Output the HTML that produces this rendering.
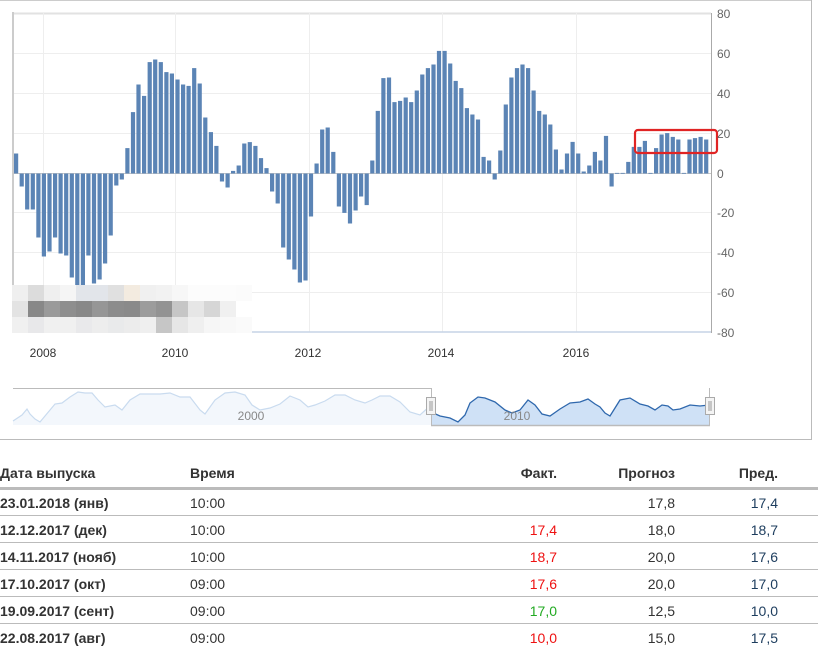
<!DOCTYPE html>
<html><head><meta charset="utf-8"><style>
html,body{margin:0;padding:0;background:#fff;width:830px;height:650px;overflow:hidden;font-family:"Liberation Sans",Arial,sans-serif}
svg{position:absolute;left:0;top:0}
table{position:absolute;left:0;top:460px;border-collapse:collapse;width:818px;font-size:14px;color:#333}
td,th{padding:0;height:27px}
</style></head><body>
<svg width="830" height="650" id="s" xmlns="http://www.w3.org/2000/svg">
<line x1="0" y1="0.5" x2="812" y2="0.5" stroke="#ccc"/>
<line x1="811.5" y1="0" x2="811.5" y2="440" stroke="#bbb"/>
<line x1="0" y1="439.5" x2="812" y2="439.5" stroke="#bbb"/>
<g stroke="#eeeeee" stroke-width="1">
<line x1="13" y1="13.5" x2="711" y2="13.5" stroke="#e2e2e2" stroke-width="2"/>
<line x1="13" y1="53.5" x2="711" y2="53.5"/>
<line x1="13" y1="93.5" x2="711" y2="93.5"/>
<line x1="13" y1="133.5" x2="711" y2="133.5"/>
<line x1="13" y1="212.5" x2="711" y2="212.5"/>
<line x1="13" y1="252.5" x2="711" y2="252.5"/>
<line x1="13" y1="292.5" x2="711" y2="292.5"/>
<line x1="43.5" y1="13" x2="43.5" y2="332"/>
<line x1="175.5" y1="13" x2="175.5" y2="332"/>
<line x1="309.5" y1="13" x2="309.5" y2="332"/>
<line x1="442.5" y1="13" x2="442.5" y2="332"/>
<line x1="576.5" y1="13" x2="576.5" y2="332"/>
</g>
<line x1="13" y1="12" x2="13" y2="285" stroke="#ccc" stroke-width="2"/>
<line x1="711.5" y1="13" x2="711.5" y2="333" stroke="#aaa"/>
<line x1="13" y1="332" x2="711" y2="332" stroke="#c5d3e6" stroke-width="1.5"/>
<line x1="13" y1="173.5" x2="711" y2="173.5" stroke="#c8c8c8"/>
<g id="bars" fill="#5b84b5"></g>
<rect x="635" y="130" width="82" height="23" rx="3" fill="none" stroke="#e02424" stroke-width="2.2"/>
<g font-size="12" fill="#666">
<text x="717" y="18">80</text><text x="717" y="58">60</text><text x="717" y="98">40</text>
<text x="717" y="138">20</text><text x="717" y="178">0</text><text x="717" y="217">-20</text>
<text x="717" y="257">-40</text><text x="717" y="297">-60</text><text x="717" y="337">-80</text>
</g>
<g font-size="12" fill="#333" text-anchor="middle">
<text x="43" y="357">2008</text><text x="175" y="357">2010</text><text x="308" y="357">2012</text>
<text x="441" y="357">2014</text><text x="576" y="357">2016</text>
</g>
<g id="blur"></g>
<!-- navigator -->
<line x1="13" y1="388.5" x2="431" y2="388.5" stroke="#bbb"/>
<polygon fill="#f3f7fc" points="13,425 13,421 22,415 27,409 30,414 35,419 40,422 45,416 55,404 62,403 70,397 78,392 85,393 92,393 98,400 105,407 115,405 122,410 130,400 140,394 150,394 160,394 170,393 180,397 190,397 200,410 205,414 215,400 225,393 235,392 245,395 252,405 260,410 270,408 280,404 290,396 300,400 308,407 315,405 325,401 335,395 345,395 355,400 365,403 372,400 380,396 390,396 400,402 410,412 420,415 431,405 431,425"/>
<polyline fill="none" stroke="#c9dbef" stroke-width="1.2" points="13,421 22,415 27,409 30,414 35,419 40,422 45,416 55,404 62,403 70,397 78,392 85,393 92,393 98,400 105,407 115,405 122,410 130,400 140,394 150,394 160,394 170,393 180,397 190,397 200,410 205,414 215,400 225,393 235,392 245,395 252,405 260,410 270,408 280,404 290,396 300,400 308,407 315,405 325,401 335,395 345,395 355,400 365,403 372,400 380,396 390,396 400,402 410,412 420,415 431,405"/>
<polygon fill="#cfe1f6" points="431,425 431,412 440,416 450,418 458,422 465,415 470,403 478,397 485,398 495,402 505,410 512,413 520,410 528,400 535,405 542,414 550,416 560,409 570,403 580,402 588,399 595,404 600,407 605,413 610,416 615,408 620,400 630,398 640,404 648,406 655,410 662,405 668,406 673,410 680,409 690,405 700,406 709,405 709,425"/>
<polyline fill="none" stroke="#2f68ad" stroke-width="1.3" points="431,412 440,416 450,418 458,422 465,415 470,403 478,397 485,398 495,402 505,410 512,413 520,410 528,400 535,405 542,414 550,416 560,409 570,403 580,402 588,399 595,404 600,407 605,413 610,416 615,408 620,400 630,398 640,404 648,406 655,410 662,405 668,406 673,410 680,409 690,405 700,406 709,405"/>
<line x1="431" y1="425.5" x2="710" y2="425.5" stroke="#bbb" stroke-width="1.5"/>
<line x1="431.5" y1="388" x2="431.5" y2="426" stroke="#bbb"/>
<line x1="709.5" y1="388" x2="709.5" y2="426" stroke="#bbb"/>
<g font-size="12" fill="#888" text-anchor="middle"><text x="251" y="420">2000</text><text x="517" y="420">2010</text></g>
<g fill="#f4f4f4" stroke="#aaa">
<rect x="426.5" y="397.5" width="9" height="17"/><rect x="705.5" y="397.5" width="9" height="17"/>
</g>
<g stroke="#999"><line x1="430" y1="401" x2="430" y2="411"/><line x1="432" y1="401" x2="432" y2="411"/>
<line x1="709" y1="401" x2="709" y2="411"/><line x1="711" y1="401" x2="711" y2="411"/></g>
<!-- table lines -->
<line x1="0" y1="488.5" x2="818" y2="488.5" stroke="#bbb" stroke-width="3"/>
<g stroke="#bbb"><line x1="0" y1="515.5" x2="818" y2="515.5"/><line x1="0" y1="542.5" x2="818" y2="542.5"/>
<line x1="0" y1="569.5" x2="818" y2="569.5"/><line x1="0" y1="596.5" x2="818" y2="596.5"/><line x1="0" y1="623.5" x2="818" y2="623.5"/></g>
<g font-size="14" fill="#333">
<g font-weight="bold"><text x="0" y="478">Дата выпуска</text><text x="190" y="478">Время</text>
<text x="557" y="478" text-anchor="end">Факт.</text><text x="675" y="478" text-anchor="end">Прогноз</text><text x="778" y="478" text-anchor="end">Пред.</text>
<text x="0" y="508">23.01.2018 (янв)</text><text x="0" y="535">12.12.2017 (дек)</text><text x="0" y="562">14.11.2017 (нояб)</text>
<text x="0" y="589">17.10.2017 (окт)</text><text x="0" y="616">19.09.2017 (сент)</text><text x="0" y="643">22.08.2017 (авг)</text></g>
<text x="190" y="508">10:00</text><text x="190" y="535">10:00</text><text x="190" y="562">10:00</text>
<text x="190" y="589">09:00</text><text x="190" y="616">09:00</text><text x="190" y="643">09:00</text>
<g text-anchor="end">
<text x="557" y="535" fill="#ee1111">17,4</text><text x="557" y="562" fill="#ee1111">18,7</text><text x="557" y="589" fill="#ee1111">17,6</text>
<text x="557" y="616" fill="#22aa22">17,0</text><text x="557" y="643" fill="#ee1111">10,0</text>
<text x="675" y="508">17,8</text><text x="675" y="535">18,0</text><text x="675" y="562">20,0</text><text x="675" y="589">20,0</text><text x="675" y="616">12,5</text><text x="675" y="643">15,0</text>
<g fill="#1d3d5e"><text x="778" y="508">17,4</text><text x="778" y="535">18,7</text><text x="778" y="562">17,6</text><text x="778" y="589">17,0</text><text x="778" y="616">10,0</text><text x="778" y="643">17,5</text></g>
</g></g>
</svg>
<script>
var v=[10,-6.5,-18,-18,-32,-41.5,-39,-32,-40,-41,-52,-56,-56,-41,-55,-53,-45,-31,-6,-3,12.7,30.7,44.5,38.8,55.7,57,55.7,50.7,50,47,44.5,43.8,52.7,45,28,20.7,13.8,-4,-7,1.3,4,15,15.7,13.8,7.7,2.7,-9,-15,-37,-43,-48,-54.5,-53.5,-21.5,5,22,23,10.8,-16.5,-19.7,-25,-18.5,-11.5,-15.8,6.5,31.3,47.7,48,35.7,36.3,38,35.7,
41.5,49.5,52.7,54.5,61.3,61.3,55,46.3,42.7,32.7,29.5,27,8.3,6.5,-3,11.5,34.5,48,52.7,54.5,52.7,41.5,31.3,29.5,24.5,12,2,10,15.8,10,1,4,10.8,6.5,18.8,-6.5,0.3,0.3,5.8,13.3,13.3,16.3,0.3,12.7,19.5,20.2,18.3,17,0.3,17,17.7,18.3,17];
var g=document.getElementById('bars'),h='';
for(var i=0;i<v.length;i++){var x=14+i*5.565,y0=173.5,hh=Math.abs(v[i])*2;var y=v[i]>=0?y0-hh:y0;
h+='<rect x="'+x.toFixed(1)+'" y="'+y.toFixed(1)+'" width="4.2" height="'+Math.max(hh,0.8).toFixed(1)+'"/>';}
g.innerHTML=h;
var rows=[["#efefef","#dcdcdc","#efefef","#f5f5f5","#e2e5ea","#e2e5ea","#e0e0e0","#f3ebe0","#f0f0f0","#f2f2f2","#f7f7f7","#fcfcfc","#fcfcfc","#fcfcfc","#fbfbfb"],
["#e3e3e3","#888888","#9a9a9a","#8e8e8e","#888888","#969696","#8c8c8c","#8a8a8a","#9c9c9c","#939393","#c6c6c6","#e6e6e6","#d6d6d6","#f0f0f0","#ffffff"],
["#f0f0f0","#e8e8ea","#f0f0f0","#f0f0f0","#e9e9eb","#ededed","#e9eaeb","#ececec","#efefef","#c6c6c6","#e6e6e6","#efefef","#f6f6f6","#f8f8f8","#fafafa"]];
var b='';for(var r=0;r<3;r++)for(var c=0;c<15;c++)b+='<rect x="'+(12+c*16)+'" y="'+(285+r*16)+'" width="16" height="16" fill="'+rows[r][c]+'"/>';
document.getElementById('blur').innerHTML=b;
</script>
</body></html>
